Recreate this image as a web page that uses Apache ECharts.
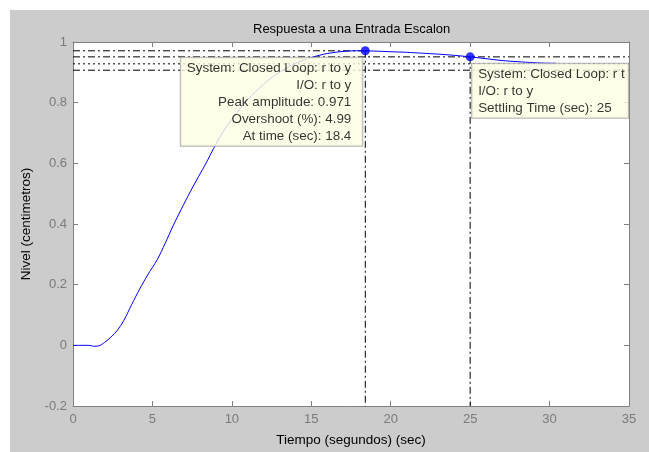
<!DOCTYPE html>
<html>
<head>
<meta charset="utf-8">
<script src="https://cdn.jsdelivr.net/npm/echarts@6/dist/echarts.min.js"></script>
<style>
html,body{margin:0;padding:0;background:#ffffff;width:649px;height:452px;overflow:hidden;}
#chart{position:absolute;left:10px;top:10px;width:639px;height:442px;}
</style>
</head>
<body>
<div id="chart"></div>
<script>
// ---- data ----
var titleText = 'Respuesta a una Entrada Escalon';
var xAxisName = 'Tiempo (segundos) (sec)';
var yAxisName = 'Nivel (centimetros)';
var xTicks = [0, 5, 10, 15, 20, 25, 30, 35];
var yTicks = [-0.2, 0, 0.2, 0.4, 0.6, 0.8, 1];

var times = [0, 0.5, 1.0, 1.3, 1.6, 2.0, 2.4, 2.8, 3.2, 3.7, 4.2, 4.7, 5.3, 5.8, 6.3, 6.8, 7.4, 7.9, 8.4, 9.0,
  9.5, 10, 10.5, 11, 11.5, 12, 12.5, 13, 13.5, 14, 14.5, 15, 15.5, 16, 16.5, 17, 17.5, 18, 18.4,
  19, 20, 21, 22, 23, 24, 25, 26, 27, 28, 29, 30, 30.4];
var response = [0, 0, 0, -0.003, -0.002, 0.01, 0.028, 0.05, 0.082, 0.135, 0.186, 0.232, 0.282, 0.336, 0.394, 0.447, 0.508, 0.556, 0.603, 0.664,
  0.708, 0.745, 0.779, 0.81, 0.837, 0.861, 0.882, 0.9, 0.916, 0.929, 0.94, 0.949, 0.956, 0.962, 0.966, 0.969, 0.9705, 0.971, 0.971,
  0.970, 0.968, 0.966, 0.963, 0.960, 0.956, 0.951, 0.945, 0.939, 0.935, 0.932, 0.930, 0.930];

var peakTime = 18.4;
var peakAmp = 0.971;
var settleTime = 25;
var settleAmp = 0.951;
var upperBand = 0.951;
var finalValue = 0.928;
var lowerBand = 0.907;

var peakTipLines = ['System: Closed Loop: r to y', 'I/O: r to y', 'Peak amplitude: 0.971', 'Overshoot (%): 4.99', 'At time (sec): 18.4'];
var settleTipLines = ['System: Closed Loop: r to y', 'I/O: r to y', 'Settling Time (sec): 25'];

// ---- chart ----
var xMin = xTicks[0], xMax = xTicks[xTicks.length - 1];
var yMin = yTicks[0], yMax = yTicks[yTicks.length - 1];
var curve = times.map(function (t, i) { return [t, response[i]]; });
var dashDot = [7, 3, 2, 3];
var fontFam = '"Liberation Sans", Arial, sans-serif';

function refLine(data, type) {
  return {
    type: 'line', data: data, symbol: 'none', silent: true, z: 3,
    lineStyle: { color: '#000000', width: 1, type: type }, animation: false
  };
}

var chart = echarts.init(document.getElementById('chart'), null, { renderer: 'canvas' });
var axisCommonX = {
  type: 'value', min: xMin, max: xMax, interval: 5,
  axisLine: { show: true, onZero: false, lineStyle: { color: '#808080', width: 1 } },
  axisTick: { show: true, inside: true, length: 5, lineStyle: { color: '#808080' } },
  splitLine: { show: false }
};
var axisCommonY = {
  type: 'value', min: yMin, max: yMax, interval: 0.2,
  axisLine: { show: true, onZero: false, lineStyle: { color: '#808080', width: 1 } },
  axisTick: { show: true, inside: true, length: 5, lineStyle: { color: '#808080' } },
  splitLine: { show: false }
};

chart.setOption({
  backgroundColor: '#cccccc',
  animation: false,
  title: {
    text: titleText, left: 238, top: 8,
    textStyle: { fontFamily: fontFam, fontSize: 13, fontWeight: 'normal', color: '#000000' }
  },
  grid: { left: 63, top: 32, width: 556, height: 367, show: true, backgroundColor: '#ffffff', borderWidth: 0 },
  xAxis: [
    Object.assign({}, axisCommonX, {
      position: 'bottom', name: xAxisName, nameLocation: 'middle', nameGap: 27,
      nameTextStyle: { fontFamily: fontFam, fontSize: 13.5, color: '#000000' },
      axisLabel: { show: true, margin: 7, color: '#7a7a7a', fontFamily: fontFam, fontSize: 13 }
    }),
    Object.assign({}, axisCommonX, { position: 'top', axisLabel: { show: false } })
  ],
  yAxis: [
    Object.assign({}, axisCommonY, {
      position: 'left', name: yAxisName, nameLocation: 'middle', nameGap: 28, nameRotate: 90,
      nameTextStyle: { fontFamily: fontFam, fontSize: 13.5, color: '#000000' },
      axisLabel: {
        show: true, margin: 6, color: '#7a7a7a', fontFamily: fontFam, fontSize: 13,
        formatter: function (v) { return String(Math.round(v * 10) / 10); }
      }
    }),
    Object.assign({}, axisCommonY, { position: 'right', axisLabel: { show: false } })
  ],
  series: [
    refLine([[xMin, upperBand], [xMax, upperBand]], dashDot),
    refLine([[xMin, finalValue], [xMax, finalValue]], [2, 3]),
    refLine([[xMin, lowerBand], [xMax, lowerBand]], dashDot),
    refLine([[xMin, peakAmp], [peakTime, peakAmp]], dashDot),
    refLine([[peakTime, peakAmp], [peakTime, yMin]], dashDot),
    refLine([[settleTime, settleAmp], [settleTime, yMin]], dashDot),
    {
      type: 'line', data: curve, symbol: 'none', smooth: 0.3, z: 4,
      lineStyle: { color: '#0000ff', width: 1 }, animation: false
    },
    {
      type: 'scatter', z: 10, symbol: 'circle', symbolSize: 9,
      itemStyle: { color: '#0000ff' },
      data: [
        {
          value: [peakTime, peakAmp],
          label: {
            show: true, position: [1.5, 11.5], align: 'right', verticalAlign: 'top',
            formatter: peakTipLines.join('\n'),
            fontFamily: fontFam, fontSize: 13.4, lineHeight: 17, color: '#000000',
            backgroundColor: '#ffffe4', borderColor: '#a0a0a0', borderWidth: 1,
            padding: [2, 11, 1, 6]
          }
        },
        {
          value: [settleTime, settleAmp],
          label: {
            show: true, position: [6.5, 11.5], align: 'left', verticalAlign: 'top',
            formatter: settleTipLines.join('\n'),
            fontFamily: fontFam, fontSize: 13.4, lineHeight: 17, color: '#000000',
            backgroundColor: '#ffffe4', borderColor: '#a0a0a0', borderWidth: 1,
            padding: [2, 0, 1, 6], width: 150, overflow: 'truncate', ellipsis: ''
          }
        }
      ]
    }
  ]
});
</script>
</body>
</html>
